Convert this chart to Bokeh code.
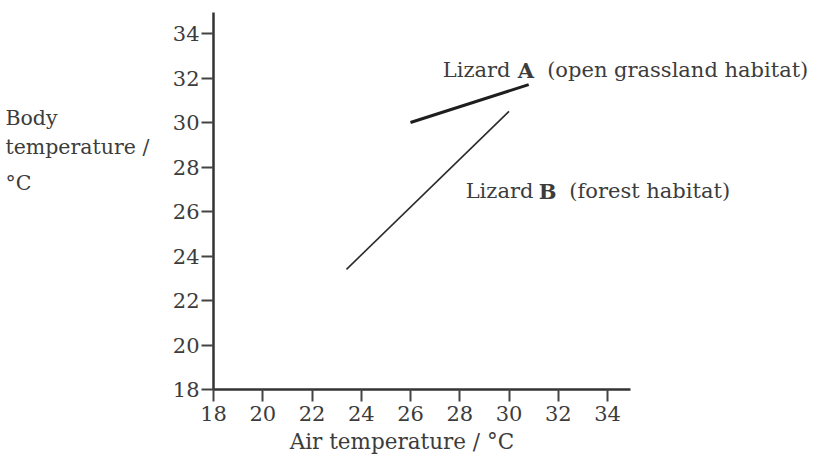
from bokeh.plotting import figure
from bokeh.models import Label, Range1d, FixedTicker
from bokeh.embed import file_html
from bokeh.resources import INLINE

# Body temperature against air temperature for two lizards
lizard_a_air = [26.0, 30.8]
lizard_a_body = [30.0, 31.7]

lizard_b_air = [23.4, 30.0]
lizard_b_body = [23.4, 30.5]

tick_values = [18, 20, 22, 24, 26, 28, 30, 32, 34]

FONT = "DejaVu Serif"
INK = "#3c3c3c"

W, H = 815, 459
# pixel position of the axes origin (18, 18) and scale in px per degree
ORIGIN_X, ORIGIN_Y = 213, 389
PX_X, PX_Y = 24.625, 22.25

x_range = Range1d(18 - ORIGIN_X / PX_X, 18 + (W - ORIGIN_X) / PX_X)
y_range = Range1d(18 - (H - ORIGIN_Y) / PX_Y, 18 + ORIGIN_Y / PX_Y)

p = figure(width=W, height=H, output_backend="svg", toolbar_location=None,
           x_range=x_range, y_range=y_range,
           min_border=0, min_border_left=0, min_border_right=0,
           min_border_top=0, min_border_bottom=0)
p.outline_line_color = None
p.grid.visible = False
p.background_fill_color = "white"
p.border_fill_color = "white"

for ax in (p.xaxis[0], p.yaxis[0]):
    ax.fixed_location = 18
    ax.bounds = (18, 34.94)
    ax.ticker = FixedTicker(ticks=tick_values)
    ax.minor_tick_line_color = None
    ax.axis_line_color = "#333333"
    ax.axis_line_width = 2.5
    ax.major_tick_line_color = "#444444"
    ax.major_tick_line_width = 2
    ax.major_tick_in = 0
    ax.major_tick_out = 12
    ax.major_label_text_font = FONT
    ax.major_label_text_font_size = "21px"
    ax.major_label_text_color = INK

p.xaxis.major_label_standoff = 4
p.yaxis.major_label_standoff = 2

p.line(lizard_a_air, lizard_a_body, line_color="#1e1e1e", line_width=3)
p.line(lizard_b_air, lizard_b_body, line_color="#2a2a2a", line_width=1.6)

def label(x, y, text, bold=False, align="left", size="21px"):
    p.add_layout(Label(x=x, y=y, text=text, text_font=FONT, text_font_size=size,
                       text_color=INK, text_align=align, text_baseline="middle",
                       text_font_style="bold" if bold else "normal"))

# Series labels
label(27.31, 32.34, "Lizard")
label(30.36, 32.34, "A", bold=True)
label(31.55, 32.34, "(open grassland habitat)")

label(28.24, 26.9, "Lizard")
label(31.21, 26.9, "B", bold=True)
label(32.45, 26.9, "(forest habitat)")

# Axis titles
label(25.65, 15.66, "Air temperature / \u00b0C", align="center", size="21.5px")
label(9.55, 30.18, "Body", size="20.5px")
label(9.55, 28.88, "temperature /", size="20.5px")
label(9.55, 27.30, "\u00b0C", size="20.5px")

open("out.html", "w").write(file_html(p, INLINE))
